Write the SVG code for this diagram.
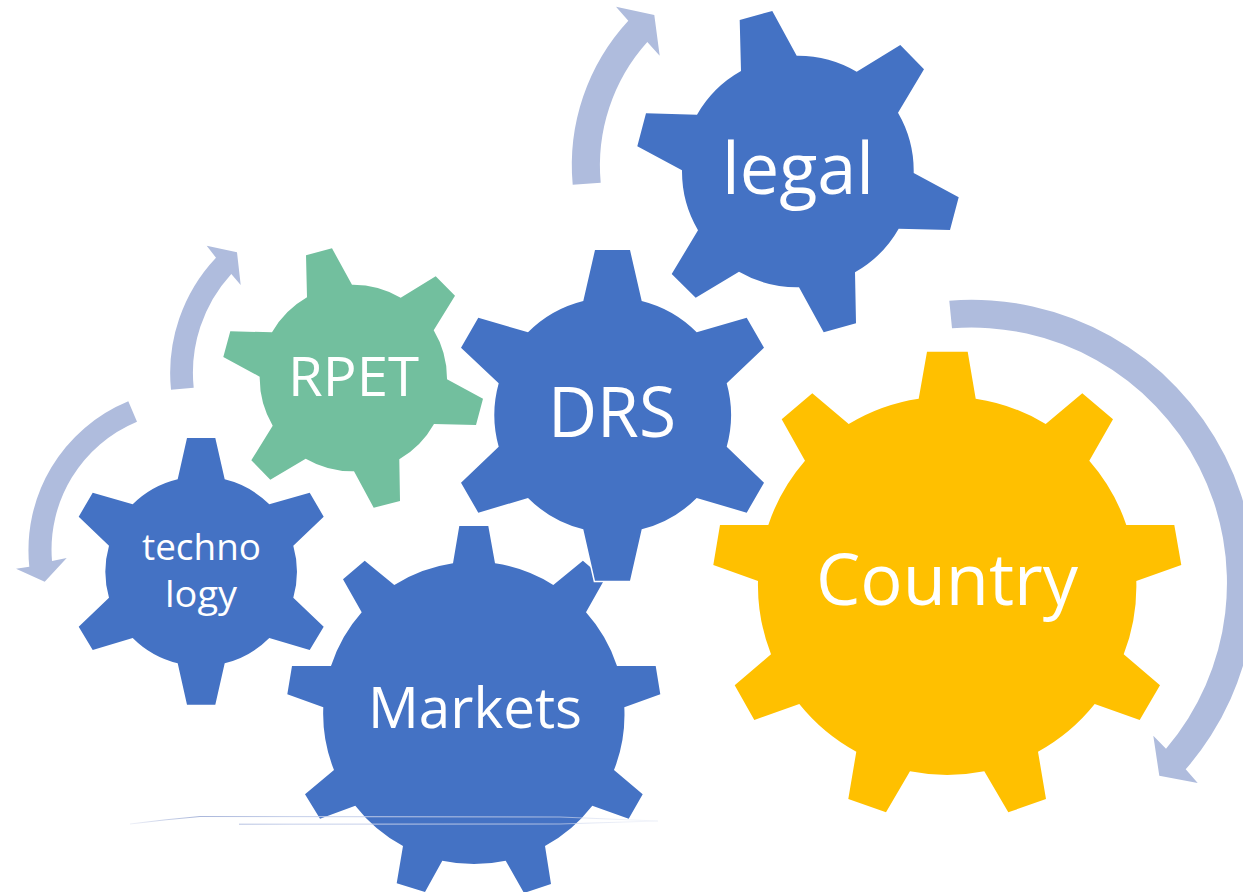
<svg xmlns="http://www.w3.org/2000/svg" width="1243" height="892" viewBox="0 0 1243 892">
  <style>
    .blue { fill: #4472C4; }
    .green { fill: #72BF9E; }
    .yellow { fill: #FFC000; }
    .arrow { fill: #AFBCDD; }
    .halo { stroke: #FFFFFF; stroke-width: 3; paint-order: stroke; stroke-linejoin: miter; }
    .label { fill: #FFFFFF; font-family: "Open Sans", "Noto Sans", sans-serif; }
    .faint { fill: none; stroke: url(#fade); stroke-width: 1; }
  </style>
  <defs>
    <linearGradient id="fade" gradientUnits="userSpaceOnUse" x1="130" y1="0" x2="660" y2="0">
      <stop offset="0" stop-color="#A9B6DA" stop-opacity="0.2"/>
      <stop offset="0.13" stop-color="#A9B6DA" stop-opacity="1"/>
      <stop offset="0.3" stop-color="#C4CEE9" stop-opacity="1"/>
      <stop offset="0.75" stop-color="#C4CEE9" stop-opacity="0.85"/>
      <stop offset="1" stop-color="#DDE3F2" stop-opacity="0.3"/>
    </linearGradient>
  </defs>
  <rect width="1243" height="892" fill="#FFFFFF"/>

  <g id="node-country">
    <path class="yellow" d="M918.7,398.7 L927,351.7 L967.7,351.7 L975.7,398.7 A189,189 0 0 1 1045.7,424 L1082.3,393.3 L1113,419.3 L1089.3,460.7 A189,189 0 0 1 1126.3,525 L1174.3,525 L1181.3,565 L1136.3,581 A189,189 0 0 1 1123.7,654.3 L1160,685.3 L1139.7,720 L1094.7,704 A189,189 0 0 1 1038,751.7 L1046,799 L1008.3,812.3 L984.3,771.3 A189,189 0 0 1 910,771.3 L886,812.3 L848.3,799 L856.3,751.7 A189,189 0 0 1 799.3,704 L754.3,720 L734.7,685.3 L771,654.3 A189,189 0 0 1 758,581 L713.3,565 L720,525 L768.3,525 A189,189 0 0 1 805,460.7 L781.7,419.3 L812.3,393.3 L848.7,424 A189,189 0 0 1 918.7,398.7 Z"/>
    <text class="label" x="816" y="605" font-size="72" textLength="262" lengthAdjust="spacingAndGlyphs">Country</text>
  </g>

  <g id="node-markets">
    <path class="blue" d="M453,563.3 L459.3,526 L488.3,526 L495,563.3 A151,151 0 0 1 553.3,585 L582.9,560.7 L604.6,579.3 L586,612.3 A151,151 0 0 1 617,666 L655.7,666 L660.3,694.3 L624.3,707.3 A151,151 0 0 1 614,770 L642.7,794.3 L628.7,818.7 L592.3,805.7 A151,151 0 0 1 545,846 L551,884 L524,893 L505.7,860.7 A151,151 0 0 1 442.3,860.7 L425,892 L396.7,883.3 L403,846 A151,151 0 0 1 355.3,805.7 L320,818.7 L305,794.3 L334,770 A151,151 0 0 1 323.3,707.3 L287.3,694.3 L292,666 L331,666 A151,151 0 0 1 361.7,612.3 L343,579.3 L364.7,560.7 L394.3,585 A151,151 0 0 1 453,563.3 Z"/>
    <text class="label" x="368" y="728" font-size="57" textLength="214" lengthAdjust="spacingAndGlyphs">Markets</text>
  </g>

  <g id="node-drs">
    <path class="blue halo" d="M583.3,301 L595,250 L630,250 L641.7,301 A118,118 0 0 1 696.7,332.3 L746.7,317.7 L764,347.7 L726.7,383.3 A118,118 0 0 1 726.7,446.7 L764,482.7 L746.7,512.7 L696.7,498 A118,118 0 0 1 641.7,529.3 L630,580.7 L595,580.7 L583.3,529.3 A118,118 0 0 1 528,498 L478.3,512.7 L461,482.7 L498.7,446.7 A118,118 0 0 1 498.7,383.3 L461,347.7 L478.3,317.7 L528,332.3 A118,118 0 0 1 583.3,301 Z"/>
    <text class="label" x="548" y="437" font-size="70" textLength="128" lengthAdjust="spacingAndGlyphs">DRS</text>
  </g>

  <g id="node-legal">
    <path class="blue" d="M741,71 L739.7,20 L772.3,11 L796.7,55.7 A116,116 0 0 1 856.7,71.7 L900.3,45 L924,69.3 L898,112.7 A116,116 0 0 1 913.7,173 L958.7,197.3 L950,230 L898.7,228.7 A116,116 0 0 1 855,272.3 L856,323.3 L823.7,332.3 L799,287.3 A116,116 0 0 1 739,271.7 L695.7,297.7 L671.7,274 L698,230.3 A116,116 0 0 1 682,170.3 L637.3,146.3 L646,113.3 L697,114.7 A116,116 0 0 1 741,71 Z"/>
    <text class="label" x="722" y="194" font-size="71" textLength="152" lengthAdjust="spacingAndGlyphs">legal</text>
  </g>

  <g id="node-rpet">
    <path class="green" d="M307,297.3 L306,255.3 L332,248.3 L352,284.7 A94,94 0 0 1 400.7,297.7 L435.7,276.3 L455,295.7 L433.7,330.3 A94,94 0 0 1 447,379.3 L483,398.7 L476,425 L434,424 A94,94 0 0 1 399.3,459.3 L400,501 L373.7,507.7 L354,471.3 A94,94 0 0 1 305.7,458.7 L270.3,479.7 L251.3,460.3 L272.7,425.7 A94,94 0 0 1 259.7,376.7 L223.3,357 L230.3,331.3 L272,332.3 A94,94 0 0 1 307,297.3 Z"/>
    <text class="label" x="288" y="396" font-size="55" textLength="131" lengthAdjust="spacingAndGlyphs">RPET</text>
  </g>

  <g id="node-technology">
    <path class="blue" d="M177.7,479.3 L187,438 L215.3,438 L224.7,479.3 A95.5,95.5 0 0 1 269.3,504.3 L309.7,492.7 L323.7,516.7 L293.3,545.7 A95.5,95.5 0 0 1 293.3,597.7 L323.7,626.7 L309.7,650 L269.3,638 A95.5,95.5 0 0 1 224.7,663.3 L215.3,704.7 L187,704.7 L177.7,663.3 A95.5,95.5 0 0 1 132.7,638 L92.7,650 L78.7,626.7 L109,597.7 A95.5,95.5 0 0 1 109,545.7 L78.7,516.7 L92.7,492.7 L132.7,504.3 A95.5,95.5 0 0 1 177.7,479.3 Z"/>
    <text class="label" x="142" y="560" font-size="36" textLength="119" lengthAdjust="spacingAndGlyphs">techno</text>
    <text class="label" x="165" y="607" font-size="36" textLength="72" lengthAdjust="spacingAndGlyphs">logy</text>
  </g>

  <g id="connectors">
    <path class="arrow" d="M949.3,300.7 A283.5,283.5 0 0 1 1185.7,769.3 L1197.7,783 L1159.3,775.7 L1153.3,735.7 L1166,748.7 A255.5,255.5 0 0 0 952,328.3 Z"/>
    <path class="arrow" d="M572.7,184.7 A213,213 0 0 1 628.3,20.7 L616,6.7 L654.3,15 L659.7,55.7 L647.3,42 A185,185 0 0 0 600.7,182.7 Z"/>
    <path class="arrow" d="M171,389.7 A168,168 0 0 1 216,257.7 L206.7,245.7 L237,252.3 L240.7,285 L231.3,274 A146,146 0 0 0 193.7,387.7 Z"/>
    <path class="arrow" d="M128.3,401.3 A161,161 0 0 0 29.3,566.7 L16,568.7 L44.7,581.7 L66.7,558 L52,561 A138.5,138.5 0 0 1 137,421.7 Z"/>
    <path class="faint" d="M130,824 Q165,819.5 200,816.5 L560,817 L658,821"/>
    <path class="faint" d="M239,824.2 L560,824 L658,821"/>
  </g>
</svg>
